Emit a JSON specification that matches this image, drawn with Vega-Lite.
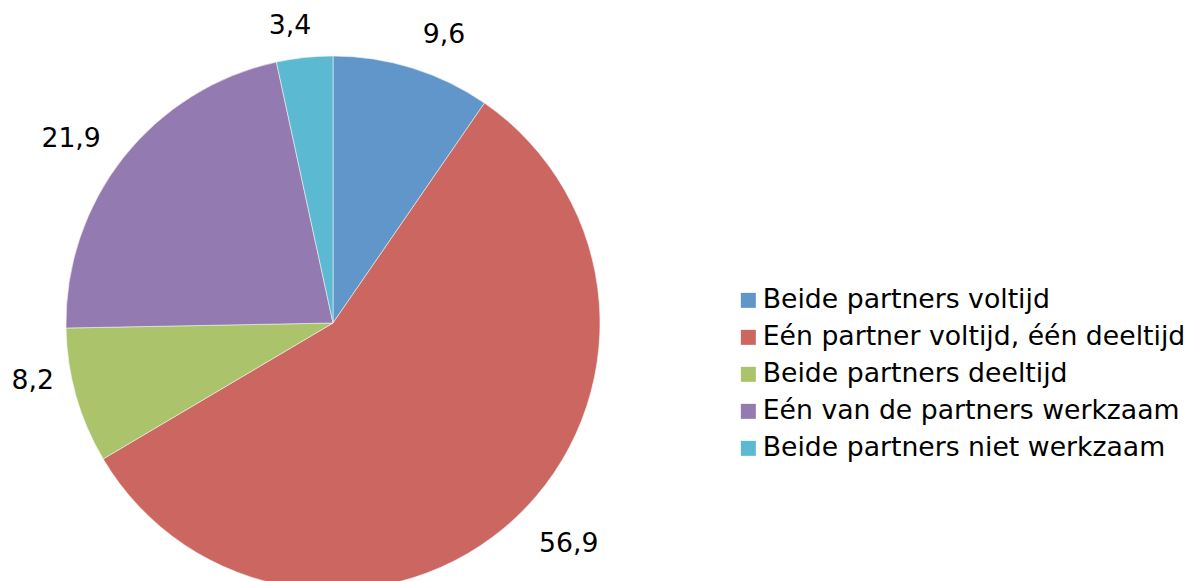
{
  "$schema": "https://vega.github.io/schema/vega-lite/v6.json",
  "width": 666,
  "height": 640,
  "padding": 0,
  "background": "white",
  "config": {"view": {"stroke": null}, "font": "DejaVu Sans"},
  "data": {
    "values": [
      {"cat": "Beide partners voltijd", "value": 9.6, "label": "9,6", "ord": 1},
      {"cat": "Eén partner voltijd, één deeltijd", "value": 56.9, "label": "56,9", "ord": 2},
      {"cat": "Beide partners deeltijd", "value": 8.2, "label": "8,2", "ord": 3},
      {"cat": "Eén van de partners werkzaam", "value": 21.9, "label": "21,9", "ord": 4},
      {"cat": "Beide partners niet werkzaam", "value": 3.4, "label": "3,4", "ord": 5}
    ]
  },
  "encoding": {
    "theta": {"field": "value", "type": "quantitative", "stack": true},
    "order": {"field": "ord", "type": "quantitative"}
  },
  "layer": [
    {
      "mark": {"type": "arc", "outerRadius": 267, "stroke": "#f2f2f2", "strokeWidth": 0.6},
      "encoding": {
        "color": {
          "field": "cat",
          "type": "nominal",
          "sort": ["Beide partners voltijd", "Eén partner voltijd, één deeltijd", "Beide partners deeltijd", "Eén van de partners werkzaam", "Beide partners niet werkzaam"],
          "scale": {
            "domain": ["Beide partners voltijd", "Eén partner voltijd, één deeltijd", "Beide partners deeltijd", "Eén van de partners werkzaam", "Beide partners niet werkzaam"],
            "range": ["#6096C9", "#CC6660", "#ABC46C", "#937AB0", "#5BB9D1"]
          },
          "legend": {
            "title": null,
            "orient": "none",
            "legendX": 735,
            "legendY": 284,
            "padding": 0,
            "symbolType": "square",
            "symbolSize": 225,
            "symbolStrokeWidth": 0,
            "labelFontSize": 26.7,
            "labelFont": "DejaVu Sans",
            "labelColor": "#000000",
            "labelOffset": 1,
            "rowPadding": 9,
            "labelLimit": 600
          }
        }
      }
    },
    {
      "mark": {"type": "text", "radius": 302, "align": "left", "baseline": "middle", "fontSize": 26.7, "font": "DejaVu Sans", "color": "#000000"},
      "encoding": {
        "text": {"condition": {"test": "datum.ord <= 2", "field": "label"}, "value": ""}
      }
    },
    {
      "mark": {"type": "text", "radius": 296, "align": "right", "baseline": "middle", "fontSize": 26.7, "font": "DejaVu Sans", "color": "#000000"},
      "encoding": {
        "text": {"condition": {"test": "datum.ord == 4", "field": "label"}, "value": ""}
      }
    },
    {
      "mark": {"type": "text", "radius": 298, "align": "right", "baseline": "middle", "dx": 10, "dy": -1, "fontSize": 26.7, "font": "DejaVu Sans", "color": "#000000"},
      "encoding": {
        "text": {"condition": {"test": "datum.ord == 5", "field": "label"}, "value": ""}
      }
    },
    {
      "mark": {"type": "text", "radius": 290, "align": "right", "baseline": "middle", "dy": -21, "fontSize": 26.7, "font": "DejaVu Sans", "color": "#000000"},
      "encoding": {
        "text": {"condition": {"test": "datum.ord == 3", "field": "label"}, "value": ""}
      }
    }
  ]
}
